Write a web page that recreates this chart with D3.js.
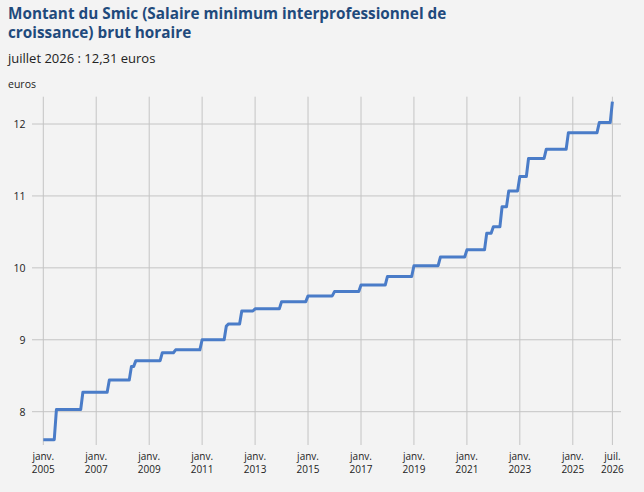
<!DOCTYPE html>
<html><head><meta charset="utf-8">
<script src="https://cdn.jsdelivr.net/npm/d3@7"></script>
<style>
html,body{margin:0;padding:0;background:#f3f3f3;}
svg{display:block;font-family:"Open Sans",sans-serif;}
</style></head>
<body><svg id="c" width="644" height="492"></svg>
<script>
const startDate = "2005-01";
const startValue = 7.61;
const changeDates = ["2005-07","2006-07","2007-07","2008-05","2008-07","2009-07","2010-01","2011-01","2011-12","2012-01","2012-07","2013-01","2014-01","2015-01","2016-01","2017-01","2018-01","2019-01","2020-01","2021-01","2021-10","2022-01","2022-05","2022-08","2023-01","2023-05","2024-01","2024-11","2026-01","2026-07"];
const changeValues = [8.03,8.27,8.44,8.63,8.71,8.82,8.86,9.00,9.19,9.22,9.40,9.43,9.53,9.61,9.67,9.76,9.88,10.03,10.15,10.25,10.48,10.57,10.85,11.07,11.27,11.52,11.65,11.88,12.02,12.31];
const xTickDates = ["2005-01","2007-01","2009-01","2011-01","2013-01","2015-01","2017-01","2019-01","2021-01","2023-01","2025-01","2026-07"];
const xTickLabels = [["janv.","2005"],["janv.","2007"],["janv.","2009"],["janv.","2011"],["janv.","2013"],["janv.","2015"],["janv.","2017"],["janv.","2019"],["janv.","2021"],["janv.","2023"],["janv.","2025"],["juil.","2026"]];
const yTicks = [8,9,10,11,12];

const parse = d3.timeParse("%Y-%m");
const svg = d3.select("#c");

svg.append("text").attr("x",8).attr("y",19).attr("fill","#1f4a7c")
  .attr("font-size",15.3).attr("font-weight",700).text("Montant du Smic (Salaire minimum interprofessionnel de");
svg.append("text").attr("x",8).attr("y",37.5).attr("fill","#1f4a7c")
  .attr("font-size",15.3).attr("font-weight",700).text("croissance) brut horaire");
svg.append("text").attr("x",8).attr("y",63).attr("fill","#222")
  .attr("font-size",13).text("juillet 2026 : 12,31 euros");
svg.append("text").attr("x",8).attr("y",88).attr("fill","#222")
  .attr("font-size",10.5).text("euros");

const x = d3.scaleTime().domain([parse("2005-01"), parse("2026-07")]).range([43.3, 612.4]);
const y = d3.scaleLinear().domain([8, 12]).range([411.7, 124]);
const gridLeft = 32, gridRight = 621, gridTop = 96.7, gridBottom = 445;

const grid = svg.append("g");
grid.selectAll("line.h").data(yTicks).join("line")
  .attr("x1",gridLeft).attr("x2",gridRight)
  .attr("y1",d=>y(d)).attr("y2",d=>y(d))
  .attr("stroke","#c4c4c4").attr("stroke-width",1);
grid.selectAll("line.v").data(xTickDates).join("line")
  .attr("x1",d=>x(parse(d))).attr("x2",d=>x(parse(d)))
  .attr("y1",gridTop).attr("y2",gridBottom)
  .attr("stroke","#c4c4c4").attr("stroke-width",1);

svg.selectAll("text.yl").data(yTicks).join("text")
  .attr("x",25.5).attr("y",d=>y(d)+4).attr("text-anchor","end")
  .attr("font-size",10.5).attr("fill","#222").text(d=>d);

const xl = svg.selectAll("text.xl").data(xTickDates).join("text")
  .attr("class","xl")
  .attr("transform",d=>`translate(${x(parse(d))},0)`)
  .attr("text-anchor","middle").attr("font-size",10).attr("fill","#222");
xl.append("tspan").attr("x",0).attr("y",459.6).text((d,i)=>xTickLabels[i][0]);
xl.append("tspan").attr("x",0).attr("y",473.4).text((d,i)=>xTickLabels[i][1]);

// monthly step series: value changes from previous month to the change month
const pts = [[parse(startDate), startValue]];
let prev = startValue;
changeDates.forEach((d,i)=>{
  const dt = parse(d);
  pts.push([d3.timeMonth.offset(dt,-1), prev]);
  pts.push([dt, changeValues[i]]);
  prev = changeValues[i];
});
const line = d3.line().x(d=>x(d[0])).y(d=>y(d[1]));
svg.append("path").datum(pts).attr("d",line).attr("fill","none")
  .attr("stroke","#4a7cc8").attr("stroke-width",3).attr("stroke-linejoin","round");
</script></body></html>
